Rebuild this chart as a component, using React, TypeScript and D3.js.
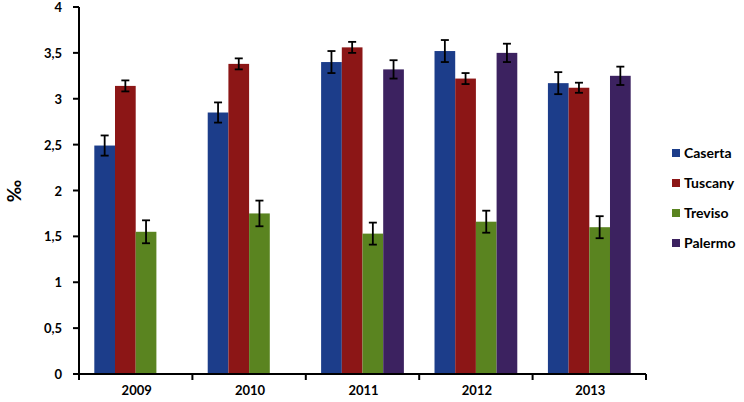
import React from "react";
import * as d3 from "d3";

const years = ["2009", "2010", "2011", "2012", "2013"];
const seriesNames = ["Caserta", "Tuscany", "Treviso", "Palermo"];
const colors = ["#1C3D8A", "#8C1616", "#5A8420", "#3C2260"];
const caserta = [2.49, 2.85, 3.4, 3.52, 3.17];
const tuscany = [3.14, 3.38, 3.56, 3.22, 3.12];
const treviso = [1.55, 1.75, 1.53, 1.66, 1.6];
const palermo = [null, null, 3.32, 3.5, 3.25];
const casertaErr = [0.11, 0.11, 0.12, 0.12, 0.12];
const tuscanyErr = [0.06, 0.06, 0.06, 0.06, 0.055];
const trevisoErr = [0.125, 0.14, 0.12, 0.12, 0.12];
const palermoErr = [0, 0, 0.1, 0.1, 0.1];
const yTicks = [0, 0.5, 1, 1.5, 2, 2.5, 3, 3.5, 4];
const yTickLabels = ["0", "0,5", "1", "1,5", "2", "2,5", "3", "3,5", "4"];

const values = [caserta, tuscany, treviso, palermo];
const errs = [casertaErr, tuscanyErr, trevisoErr, palermoErr];

export default function App() {
  const W = 744, H = 402;
  const x0 = 79, x1 = 646, yTop = 7, yBot = 374;
  const x = d3.scaleBand<string>().domain(years).range([x0, x1]).paddingInner(0).paddingOuter(0);
  const xs = d3.scaleBand<string>().domain(seriesNames).range([0, x.bandwidth()]).paddingOuter(0.74).paddingInner(0);
  const y = d3.scaleLinear().domain([0, 4]).range([yBot, yTop]);
  const font = "Lato, 'Open Sans', sans-serif";
  const boundaries = years.map((yr) => x(yr)!).concat([x1]);

  return (
    <svg width={W} height={H} style={{ position: "absolute", left: 0, top: 0 }}>
      <rect width={W} height={H} fill="#fff" />
      {values.map((vals, si) =>
        vals.map((v, i) => {
          if (v == null) return null;
          const bx = x(years[i])! + xs(seriesNames[si])!;
          const bw = xs.bandwidth();
          const e = errs[si][i];
          const cx = bx + bw / 2;
          return (
            <g key={`${si}-${i}`}>
              <rect x={bx} y={y(v)} width={bw} height={y(0) - y(v)} fill={colors[si]} />
              <line x1={cx} x2={cx} y1={y(v + e)} y2={y(v - e)} stroke="#000" strokeWidth={1.8} />
              <line x1={cx - 4} x2={cx + 4} y1={y(v + e)} y2={y(v + e)} stroke="#000" strokeWidth={1.8} />
              <line x1={cx - 4} x2={cx + 4} y1={y(v - e)} y2={y(v - e)} stroke="#000" strokeWidth={1.8} />
            </g>
          );
        })
      )}
      <line x1={x0} x2={x0} y1={yTop} y2={yBot} stroke="#000" strokeWidth={2} />
      <line x1={x0} x2={x1} y1={yBot} y2={yBot} stroke="#000" strokeWidth={2} />
      {yTicks.map((t, i) => (
        <g key={t}>
          <line x1={x0 - 6} x2={x0} y1={y(t)} y2={y(t)} stroke="#000" strokeWidth={2} />
          <text x={62} y={y(t) + 5} textAnchor="end" fontFamily={font} fontWeight="bold" fontSize={13} fill="#000">
            {yTickLabels[i]}
          </text>
        </g>
      ))}
      {boundaries.map((b, i) => (
        <line key={i} x1={b} x2={b} y1={yBot} y2={yBot + 6} stroke="#000" strokeWidth={2} />
      ))}
      {years.map((yr) => (
        <text key={yr} x={x(yr)! + x.bandwidth() / 2 + 1} y={395} textAnchor="middle" fontFamily={font} fontWeight="bold" fontSize={13} fill="#000">
          {yr}
        </text>
      ))}
      <text transform="translate(21,191) rotate(-90)" textAnchor="middle" fontFamily={font} fontWeight="bold" fontSize={19} fill="#000">
        ‰
      </text>
      {seriesNames.map((s, i) => (
        <g key={s} transform={`translate(672,${153 + i * 30})`}>
          <rect x={0} y={-4} width={8} height={8} fill={colors[i]} />
          <text x={12} y={5} fontFamily={font} fontWeight="bold" fontSize={14} fill="#000">
            {s}
          </text>
        </g>
      ))}
    </svg>
  );
}
